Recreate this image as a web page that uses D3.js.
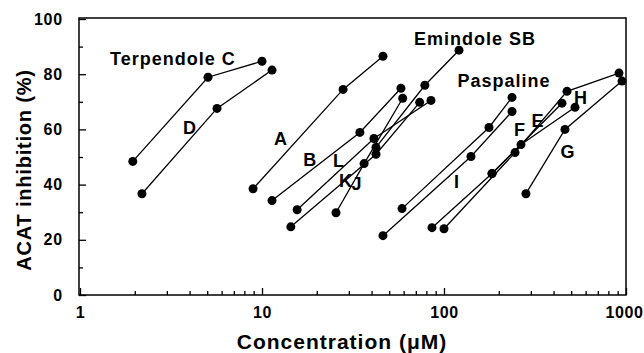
<!DOCTYPE html>
<html>
<head>
<meta charset="utf-8">
<script src="https://cdn.jsdelivr.net/npm/d3@7"></script>
<style>
  body { margin: 0; background: #fff; }
  svg { display: block; }
  text { font-family: "Liberation Sans", Arial, Helvetica, sans-serif; font-weight: bold; fill: #000; }
</style>
</head>
<body>
<svg id="chart" width="644" height="353"></svg>
<script>
// compounds, concentration (uM) and ACAT inhibition (%)
const seriesNames = ['Terpendole C', 'D', 'A', 'B', 'L', 'K', 'J', 'Emindole SB',
                     'Paspaline', 'I', 'F', 'E', 'H', 'G'];
const seriesConc = [
    [1.95, 5.05, 10],
    [2.19, 5.66, 11.35],
    [8.93, 27.9, 46.2],
    [11.35, 34.5, 58],
    [15.6, 41.2, 84.8],
    [14.4, 42.3, 73.5],
    [25.5, 36.4, 59.3],
    [42.3, 78.5, 120.9],
    [58.8, 176.7, 236.5],
    [46.2, 140.7, 236.5],
    [85.9, 183.6, 444.8],
    [100, 245.6, 474, 915],
    [183.6, 264.9, 524.6],
    [282, 462, 951]
];
const seriesInhib = [
    [48.4, 78.9, 84.7],
    [36.7, 67.6, 81.5],
    [38.5, 74.5, 86.5],
    [34.2, 58.9, 74.9],
    [30.9, 56.7, 70.5],
    [24.7, 51.0, 69.8],
    [29.8, 47.6, 71.3],
    [53.5, 76.0, 88.7],
    [31.3, 60.7, 71.6],
    [21.5, 50.2, 66.5],
    [24.4, 44.0, 69.5],
    [24.0, 51.6, 73.8, 80.4],
    [44.0, 54.5, 68.0],
    [36.7, 60.0, 77.5]
];

// where each compound name sits, in data units (conc, inhibition)
const labelConc  = [3.24, 4.02, 12.7, 18.4, 26.5, 28.9, 33.3, 148, 213.6, 117.9, 261.6, 328.3, 566, 479.9];
const labelInhib = [83.3, 58.2, 54.2, 46.9, 46.2, 39.3, 38.2, 90.5, 75.3, 38.9, 57.5, 60.7, 69.1, 49.8];

const xMajorTicks = [1, 10, 100, 1000];
const yMajorTicks = [0, 20, 40, 60, 80, 100];
const yMinorTicks = [10, 30, 50, 70, 90];

const xTitle = 'Concentration (\u03BCM)';
const yTitle = 'ACAT inhibition (%)';

// layout
const plotLeft = 80, plotRight = 626, plotTop = 19, plotBottom = 295;

var svg = d3.select('#chart');

var x = d3.scaleLog().domain([1, 1000]).range([plotLeft, plotRight]);
var y = d3.scaleLinear().domain([0, 100]).range([plotBottom, plotTop]);

// minor ticks on log axis: 2..9 in each decade
var xMinorTicks = [];
xMajorTicks.slice(0, -1).forEach(d => {
    for (let k = 2; k < 10; k++) xMinorTicks.push(d * k);
});

// frame
svg.append('rect')
    .attr('x', plotLeft - 1).attr('y', plotTop - 1)
    .attr('width', plotRight - plotLeft + 1).attr('height', plotBottom - plotTop + 1)
    .attr('fill', 'none').attr('stroke', '#000').attr('stroke-width', 1.5);

// x axis
var xAxisMajor = d3.axisBottom(x).tickValues(xMajorTicks).tickSize(-7).tickPadding(12)
    .tickFormat(d3.format('d'));
var xAxisMinor = d3.axisBottom(x).tickValues(xMinorTicks).tickSize(-4).tickFormat('');

var gx = svg.append('g').attr('transform', 'translate(0,' + plotBottom + ')');
gx.append('g').call(xAxisMinor);
gx.append('g').call(xAxisMajor)
    .selectAll('text')
    .style('font-size', '16px')
    .style('letter-spacing', '0.6px')
    // last label sits against the right edge, keep it inside
    .attr('dx', d => d === 1000 ? '-2px' : null);

// y axis
var yAxisMajor = d3.axisLeft(y).tickValues(yMajorTicks).tickSize(-7).tickPadding(16);
var yAxisMinor = d3.axisLeft(y).tickValues(yMinorTicks).tickSize(-4).tickFormat('');

var gy = svg.append('g').attr('transform', 'translate(' + (plotLeft - 1) + ',0)');
gy.append('g').call(yAxisMinor);
gy.append('g').call(yAxisMajor)
    .selectAll('text')
    .style('font-size', '16px')
    .style('letter-spacing', '0.8px');

svg.selectAll('.domain').remove();
svg.selectAll('.tick line').attr('stroke', '#000').attr('stroke-width', 1.3);
svg.selectAll('.tick text').attr('fill', '#000');

// axis titles
svg.append('text')
    .attr('x', 342).attr('y', 349)
    .attr('text-anchor', 'middle')
    .style('font-size', '21px')
    .style('letter-spacing', '1px')
    .text(xTitle);

svg.append('text')
    .attr('transform', 'translate(31,170) rotate(-90)')
    .attr('text-anchor', 'middle')
    .style('font-size', '20px')
    .style('letter-spacing', '0.8px')
    .text(yTitle);

// series
var line = d3.line()
    .x(d => x(d[0]))
    .y(d => y(d[1]));

var seriesData = seriesNames.map((name, i) => ({
    name: name,
    points: seriesConc[i].map((c, j) => [c, seriesInhib[i][j]])
}));

var groups = svg.selectAll('.series')
    .data(seriesData)
    .enter()
    .append('g')
    .attr('class', 'series');

groups.append('path')
    .attr('d', d => line(d.points))
    .attr('fill', 'none')
    .attr('stroke', '#000')
    .attr('stroke-width', 1.3);

groups.selectAll('circle')
    .data(d => d.points)
    .enter()
    .append('circle')
    .attr('cx', d => x(d[0]))
    .attr('cy', d => y(d[1]))
    .attr('r', 4.5)
    .attr('fill', '#000');

// compound labels
svg.selectAll('.label')
    .data(seriesNames)
    .enter()
    .append('text')
    .attr('class', 'label')
    .attr('x', (d, i) => x(labelConc[i]))
    .attr('y', (d, i) => y(labelInhib[i]))
    .attr('text-anchor', 'middle')
    .style('font-size', '18px')
    .style('letter-spacing', '1px')
    .text(d => d);
</script>
</body>
</html>
